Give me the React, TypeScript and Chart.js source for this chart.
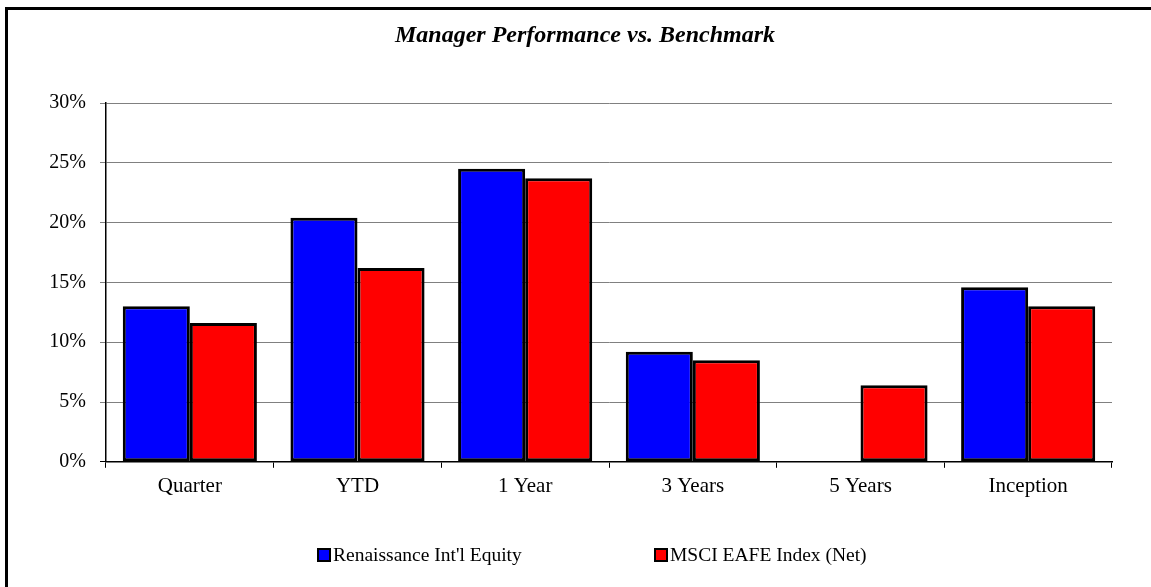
import React, { useEffect, useRef } from "react";
import { Chart, registerables } from "chart.js";

Chart.register(...registerables);

const categories = ["Quarter", "YTD", "1 Year", "3 Years", "5 Years", "Inception"];
const managerValues = [13.0, 20.4, 24.5, 9.2, null, 14.6];
const benchmarkValues = [11.6, 16.2, 23.7, 8.5, 6.4, 13.0];
const seriesNames = ["Renaissance Int'l Equity", "MSCI EAFE Index (Net)"];
const seriesColors = ["#0000FF", "#FF0000"];
const chartTitle = "Manager Performance vs. Benchmark";

const FONT = "'Liberation Serif', 'Times New Roman', serif";

const decorPlugin = {
  id: "decor",
  afterDraw(chart: any) {
    const ctx = chart.ctx as CanvasRenderingContext2D;
    ctx.save();
    // title
    ctx.fillStyle = "#000";
    ctx.font = `italic bold 24px ${FONT}`;
    ctx.textAlign = "center";
    ctx.textBaseline = "middle";
    ctx.fillText(chartTitle, 585, 36);
    // legend
    ctx.font = `19.5px ${FONT}`;
    ctx.textAlign = "left";
    const starts = [318, 655];
    const cy = 555;
    chart.data.datasets.forEach((ds: any, i: number) => {
      const x = starts[i];
      ctx.fillStyle = ds.backgroundColor;
      ctx.fillRect(x, cy - 6, 12, 12);
      ctx.strokeStyle = "#000";
      ctx.lineWidth = 2;
      ctx.strokeRect(x, cy - 6, 12, 12);
      ctx.fillStyle = "#000";
      ctx.fillText(ds.label, x + 15, cy + 1);
    });
    ctx.restore();
  },
};

export default function App() {
  const ref = useRef<HTMLCanvasElement | null>(null);
  useEffect(() => {
    if (!ref.current) return;
    const chart = new Chart(ref.current, {
      type: "bar",
      data: {
        labels: categories,
        datasets: [
          {
            label: seriesNames[0],
            data: managerValues,
            backgroundColor: seriesColors[0],
            borderColor: "#000",
            borderWidth: 3,
            borderSkipped: false,
          },
          {
            label: seriesNames[1],
            data: benchmarkValues,
            backgroundColor: seriesColors[1],
            borderColor: "#000",
            borderWidth: 3,
            borderSkipped: false,
          },
        ],
      },
      options: {
        responsive: false,
        animation: false,
        layout: { padding: { left: 0, top: 103, right: 39, bottom: 82 } },
        datasets: { bar: { categoryPercentage: 0.8, barPercentage: 1.0 } },
        plugins: {
          legend: { display: false },
          title: { display: false },
          tooltip: { enabled: false },
        },
        scales: {
          x: {
            offset: true,
            grid: {
              display: true,
              drawOnChartArea: false,
              drawTicks: true,
              tickLength: 6,
              color: "#000",
              offset: true,
            },
            border: { display: true, color: "#000", width: 1.5 },
            ticks: { color: "#000", font: { family: FONT, size: 21 }, padding: 6 },
          },
          y: {
            min: 0,
            max: 30,
            afterFit(scale: any) {
              scale.width = 106;
            },
            grid: {
              color: (c: any) => (c.tick && c.tick.value === 0 ? "#000" : "#808080"),
              lineWidth: 1,
              tickLength: 6,
            },
            border: { display: true, color: "#000", width: 1.5 },
            ticks: {
              stepSize: 5,
              color: "#000",
              font: { family: FONT, size: 20 },
              padding: 14,
              callback: (v: any) => `${v}%`,
            },
          },
        },
      },
      plugins: [decorPlugin],
    });
    return () => chart.destroy();
  }, []);

  return (
    <>
      <div
        style={{
          position: "absolute",
          left: 5,
          top: 7,
          width: 1146,
          height: 580,
          boxSizing: "border-box",
          borderTop: "3px solid #000",
          borderLeft: "3px solid #000",
        }}
      />
      <canvas
        ref={ref}
        width={1151}
        height={587}
        style={{ position: "absolute", left: 0, top: 0, width: 1151, height: 587 }}
      />
    </>
  );
}
